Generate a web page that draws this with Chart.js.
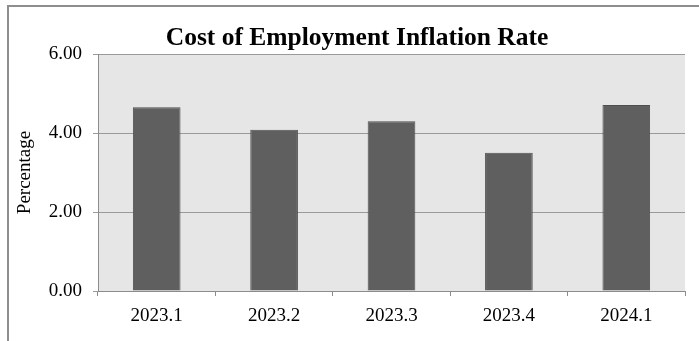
<!DOCTYPE html>
<html>
<head>
<meta charset="utf-8">
<script src="https://cdn.jsdelivr.net/npm/chart.js@4.4.1/dist/chart.umd.min.js"></script>
<style>
  html, body { margin: 0; padding: 0; background: #fff; overflow: hidden; }
  #wrap { position: relative; width: 699px; height: 341px; overflow: hidden; }
  /* 外枠（右と下ははみ出して見えない） */
  #frame { position: absolute; left: 7px; top: 5px; width: 800px; height: 400px;
           border-left: 2px solid #8e8e8e; border-top: 2px solid #8e8e8e; }
  #chart { position: absolute; left: 0; top: 0; }
</style>
</head>
<body>
<div id="wrap">
  <div id="frame"></div>
  <canvas id="chart" width="699" height="341"></canvas>
</div>
<script>
// 四半期ごとの雇用コスト上昇率
const quarters = ["2023.1", "2023.2", "2023.3", "2023.4", "2024.1"];
const inflationRates = [4.65, 4.08, 4.30, 3.50, 4.71];
const yTicks = [0, 2, 4, 6];

const serif = "'Liberation Serif', 'Times New Roman', serif";

// プロット領域の背景をグレーで塗る
const plotBackground = {
  id: "plotBackground",
  beforeDraw(chart) {
    const { ctx, chartArea } = chart;
    ctx.save();
    ctx.fillStyle = "#e6e6e6";
    ctx.fillRect(chartArea.left, chartArea.top,
      chartArea.right - chartArea.left, chartArea.bottom - chartArea.top);
    ctx.restore();
  },
};

const chart = new Chart(document.getElementById("chart"), {
  type: "bar",
  data: {
    labels: quarters,
    datasets: [
      {
        label: "Percentage",
        data: inflationRates,
        backgroundColor: "#5f5f5f",
        borderColor: "#4f4f4f",
        borderWidth: 1,
        barPercentage: 0.406,
        categoryPercentage: 1,
      },
    ],
  },
  options: {
    responsive: false,
    animation: false,
    devicePixelRatio: 1,
    layout: {
      padding: { left: 29, right: 14, top: 0, bottom: 0 },
    },
    scales: {
      x: {
        grid: {
          display: true,
          drawOnChartArea: false,
          drawTicks: true,
          tickLength: 5,
          offset: true,
          color: "#8c8c8c",
        },
        border: { color: "#8c8c8c", width: 1 },
        ticks: {
          color: "#000",
          font: { family: serif, size: 19 },
          padding: 9,
          maxRotation: 0,
        },
        afterFit: (scale) => {
          scale.height = 50;
        },
      },
      y: {
        min: 0,
        max: 6,
        afterBuildTicks: (scale) => {
          scale.ticks = yTicks.map((v) => ({ value: v }));
        },
        ticks: {
          color: "#000",
          font: { family: serif, size: 19 },
          padding: 11,
          callback: (v) => Number(v).toFixed(2),
        },
        grid: { color: "#9a9a9a", tickLength: 5 },
        border: { color: "#8c8c8c", width: 1 },
        title: {
          display: true,
          text: "Percentage",
          color: "#000",
          font: { family: serif, size: 19 },
          padding: { top: -15, bottom: 0 },
        },
        afterFit: (scale) => {
          scale.width = 69;
        },
      },
    },
    plugins: {
      legend: { display: false },
      tooltip: { enabled: false },
      title: {
        display: true,
        text: "Cost of Employment Inflation Rate",
        color: "#000",
        font: { family: serif, size: 25.5, weight: "bold" },
        padding: { top: 23, bottom: 0.4 },
      },
    },
  },
  plugins: [plotBackground],
});
</script>
</body>
</html>
